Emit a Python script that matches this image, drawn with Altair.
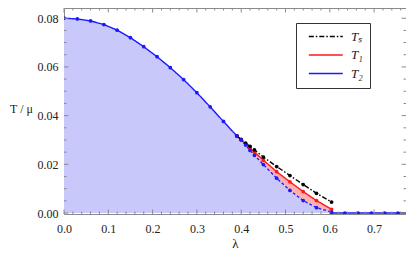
import altair as alt
import pandas as pd

# ---- data ----
# T2 branch before the first-order region
lam_a = [0.00, 0.03, 0.06, 0.09, 0.12, 0.15, 0.18, 0.21, 0.24, 0.27, 0.30, 0.33, 0.36, 0.39]
t2_a = [0.0800, 0.0797, 0.0789, 0.0774, 0.0751, 0.0720, 0.0683, 0.0642, 0.0597, 0.0548, 0.0494, 0.0436, 0.0376, 0.0317]

# first-order region
lam_b = [0.39, 0.40, 0.41, 0.42, 0.43, 0.45, 0.48, 0.51, 0.54, 0.57, 0.604]
ts_b = [0.0317, 0.0302, 0.0287, 0.0274, 0.0259, 0.0230, 0.0191, 0.0154, 0.0117, 0.0081, 0.0045]
t1_b = [0.0317, 0.0300, 0.0283, 0.0267, 0.0250, 0.0217, 0.0170, 0.0128, 0.0088, 0.0051, 0.0015]
t2_b = [0.0317, 0.0300, 0.0279, 0.0257, 0.0237, 0.0199, 0.0143, 0.0093, 0.0051, 0.0022, 0.0004]

# after the transition
lam_c = [0.604, 0.634, 0.664, 0.694, 0.724, 0.754, 0.785]
t2_c = [0.0, 0.0, 0.0, 0.0, 0.0, 0.0, 0.0]

series_names = ["Tₛ", "T₁", "T₂"]
series_colors = ["black", "#ff1a1a", "#1a1aff"]

x_major = [0.0, 0.1, 0.2, 0.3, 0.4, 0.5, 0.6, 0.7]
x_minor = [round(0.02 * i, 2) for i in range(39) if i % 5 != 0]
y_major = [0.0, 0.02, 0.04, 0.06, 0.08]
y_minor = [round(0.005 * i, 3) for i in range(17) if i % 4 != 0]

# ---- tables ----
W, H = 342, 206
FONT = "Liberation Serif"
FRAME = "#8a8a8a"

fill_blue = pd.DataFrame({
    "lam": lam_a + lam_b[1:] + lam_c[1:],
    "T": t2_a + t2_b[1:] + t2_c[1:],
})
fill_red = pd.DataFrame({"lam": lam_b, "T": t1_b, "T2": t2_b})

rows = []
for l, t in zip(lam_a, t2_a):
    rows.append({"lam": l, "T": t, "s": "T₂", "seg": "a"})
for l, t in zip(lam_c, t2_c):
    rows.append({"lam": l, "T": t, "s": "T₂", "seg": "c"})
for l, t in zip(lam_b, t1_b):
    rows.append({"lam": l, "T": t, "s": "T₁", "seg": "b"})
for l, t in zip(lam_b, ts_b):
    rows.append({"lam": l, "T": t, "s": "Tₛ", "seg": "b"})
lines = pd.DataFrame(rows)
dashed = pd.DataFrame({"lam": lam_b, "T": t2_b})

pts = pd.concat([
    lines[lines["lam"] < 0.77][["lam", "T", "s"]],
    pd.DataFrame({"lam": lam_b, "T": t2_b, "s": "T₂"}),
])

xs = alt.Scale(domain=[0, 0.772], nice=False, zero=False)
ys = alt.Scale(domain=[-0.0004, 0.0842], nice=False, zero=False)

xaxis = alt.Axis(values=x_major, format=".1f", ticks=False, domain=False, grid=False,
                 labelFlush=False, labelFont=FONT, labelFontSize=12, labelColor="#222",
                 labelPadding=9, title="λ", titleFont=FONT, titleFontSize=13,
                 titleFontWeight="normal", titleColor="#222", titleX=W / 2, titleY=29,
                 titleBaseline="middle")
yaxis = alt.Axis(values=y_major, format=".2f", ticks=False, domain=False, grid=False,
                 labelFlush=False, labelFont=FONT, labelFontSize=12, labelColor="#222",
                 labelPadding=6, title="T / μ", titleFont=FONT, titleFontSize=12,
                 titleFontWeight="normal", titleColor="#222", titleAngle=0,
                 titleX=-43, titleY=100, titleAlign="center", titleBaseline="middle")

color_scale = alt.Scale(domain=series_names, range=series_colors)
dash_scale = alt.Scale(domain=series_names, range=[[5, 2, 1.5, 2], [1, 0], [1, 0]])
leg = alt.Legend(orient="none", legendX=232, legendY=15, title=None,
                 symbolType="M-0.12,0L5.88,0", symbolSize=128, symbolStrokeWidth=1.6,
                 labelFont=FONT, labelFontStyle="italic", labelFontSize=13,
                 labelColor="#222", labelOffset=35, rowPadding=4.5, padding=7,
                 strokeColor="#333", fillColor="white")


def X(field="lam"):
    return alt.X(f"{field}:Q", scale=xs, axis=xaxis, title="λ")


def Y(field="T"):
    return alt.Y(f"{field}:Q", scale=ys, axis=yaxis, title="T / μ")


area_blue = alt.Chart(fill_blue).mark_area(color="#c8c8fa", clip=True).encode(
    x=X(), y=Y(), y2=alt.value(H),
)
area_red = alt.Chart(fill_red).mark_area(color="#ffb0b0", clip=True).encode(
    x=X(), y=Y(), y2="T2:Q",
)
dash_line = alt.Chart(dashed).mark_line(color="#1a1aff", strokeWidth=1.3,
                                        strokeDash=[3, 2], clip=True).encode(
    x=X(), y=Y(),
)
main_lines = alt.Chart(lines).mark_line(strokeWidth=1.4, clip=True).encode(
    x=X(), y=Y(),
    color=alt.Color("s:N", scale=color_scale, legend=leg),
    strokeDash=alt.StrokeDash("s:N", scale=dash_scale, legend=leg),
    detail="seg:N",
)
markers = alt.Chart(pts).mark_circle(size=14, opacity=1, clip=True).encode(
    x=X(), y=Y(),
    color=alt.Color("s:N", scale=color_scale, legend=None),
)


def xticks(vals, length):
    d = pd.DataFrame({"lam": vals})
    b = alt.Chart(d).mark_rule(color=FRAME, strokeWidth=1).encode(
        x=X(), y=alt.value(H), y2=alt.value(H - length))
    t = alt.Chart(d).mark_rule(color=FRAME, strokeWidth=1).encode(
        x=X(), y=alt.value(0), y2=alt.value(length))
    return [b, t]


def yticks(vals, length):
    d = pd.DataFrame({"T": vals})
    l = alt.Chart(d).mark_rule(color=FRAME, strokeWidth=1).encode(
        y=Y(), x=alt.value(0), x2=alt.value(length))
    r = alt.Chart(d).mark_rule(color=FRAME, strokeWidth=1).encode(
        y=Y(), x=alt.value(W), x2=alt.value(W - length))
    return [l, r]


tick_layers = xticks(x_major, 4.5) + xticks(x_minor, 2.5) + yticks(y_major, 4.5) + yticks(y_minor, 2.5)

chart = alt.layer(
    area_blue, area_red, dash_line, main_lines, markers, *tick_layers
).properties(
    width=W, height=H,
    autosize=alt.AutoSizeParams(type="none"),
    padding={"left": 56, "top": 0, "right": 0, "bottom": 38},
).configure_view(stroke=FRAME, strokeWidth=1)

chart.save("out.html", embed_options={"renderer": "svg", "actions": False})
